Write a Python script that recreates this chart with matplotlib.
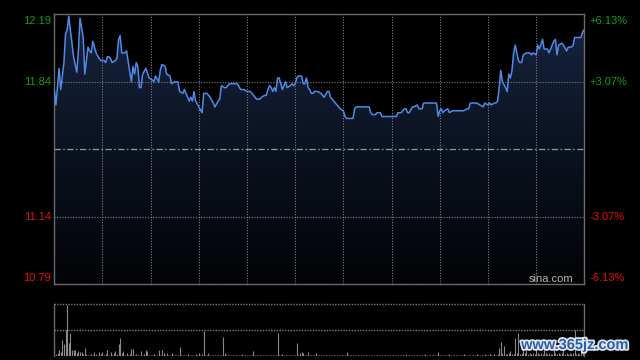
import numpy as np
import matplotlib
matplotlib.use("Agg")
import matplotlib.pyplot as plt
import matplotlib.transforms as mtransforms
import matplotlib.patheffects as pe
from matplotlib.colors import LinearSegmentedColormap

plt.rcParams['font.family'] = ['Liberation Sans', 'DejaVu Sans']

# ---------------- data ----------------
minutes = [0, 1, 3, 4, 6, 7, 8, 9, 11, 12,
           14, 15, 16, 18, 19, 21, 22, 23, 24, 26,
           28, 29, 31, 32, 33, 34, 35, 36, 38, 39,
           40, 41, 42, 44, 45, 47, 48, 49, 50, 51,
           52, 53, 54, 55, 57, 59, 61, 62, 63, 65,
           66, 67, 69, 70, 72, 73, 75, 77, 78, 80,
           81, 82, 84, 85, 86, 87, 88, 90, 92, 93,
           95, 97, 99, 100, 102, 103, 104, 106, 107, 109,
           110, 112, 114, 116, 118, 120, 122, 124, 125, 126,
           128, 129, 131, 132, 133, 134, 135, 136, 137, 138,
           139, 140, 141, 142, 143, 144, 145, 147, 148, 149,
           150, 151, 152, 154, 155, 156, 157, 158, 159, 160,
           161, 162, 164, 166, 167, 168, 170, 171, 172, 173,
           174, 175, 177, 178, 180, 181, 182, 185, 186, 187,
           188, 190, 191, 192, 193, 195, 196, 197, 198, 200,
           201, 203, 204, 207, 210, 213, 214, 216, 218, 219,
           220, 221, 223, 224, 226, 227, 229, 230, 231, 234,
           237, 238, 239, 240, 241, 242, 243, 245, 246, 248,
           250, 251, 253, 255, 257, 258, 259, 261, 263, 265,
           267, 268, 270, 271, 272, 274, 275, 276, 277, 278,
           279, 281, 282, 283, 284, 285, 286, 287, 289, 290,
           291, 292, 294, 296, 297, 298, 300, 301, 302, 304,
           305, 307, 308, 310, 311, 312, 313, 314, 316, 317,
           319, 320, 322, 323, 324, 326, 328, 329, 330]

prices = [11.80, 11.72, 11.91, 11.80, 11.94, 12.09, 12.11, 12.18, 12.04, 11.97,
          11.89, 12.00, 12.17, 12.07, 11.88, 12.02, 12.00, 11.99, 12.05, 11.99,
          11.96, 11.95, 11.95, 11.94, 11.97, 11.97, 11.96, 11.94, 11.95, 11.96,
          12.06, 12.08, 11.99, 11.99, 12.00, 11.89, 11.84, 11.92, 11.88, 11.94,
          11.92, 11.81, 11.81, 11.88, 11.91, 11.86, 11.85, 11.84, 11.87, 11.84,
          11.90, 11.93, 11.92, 11.88, 11.87, 11.83, 11.84, 11.84, 11.79, 11.78,
          11.80, 11.78, 11.74, 11.76, 11.74, 11.79, 11.74, 11.71, 11.68, 11.78,
          11.78, 11.76, 11.73, 11.71, 11.74, 11.75, 11.82, 11.81, 11.81, 11.83,
          11.83, 11.83, 11.83, 11.80, 11.80, 11.79, 11.79, 11.77, 11.76, 11.75,
          11.75, 11.76, 11.77, 11.77, 11.80, 11.82, 11.81, 11.79, 11.81, 11.79,
          11.86, 11.86, 11.83, 11.80, 11.82, 11.84, 11.81, 11.82, 11.83, 11.82,
          11.83, 11.86, 11.87, 11.87, 11.83, 11.83, 11.86, 11.81, 11.80, 11.78,
          11.78, 11.79, 11.79, 11.78, 11.77, 11.76, 11.79, 11.79, 11.76, 11.75,
          11.74, 11.73, 11.71, 11.70, 11.69, 11.66, 11.65, 11.65, 11.65, 11.70,
          11.71, 11.71, 11.71, 11.71, 11.71, 11.71, 11.71, 11.68, 11.67, 11.67,
          11.68, 11.68, 11.66, 11.66, 11.66, 11.66, 11.68, 11.68, 11.70, 11.70,
          11.68, 11.68, 11.71, 11.71, 11.72, 11.70, 11.70, 11.73, 11.73, 11.73,
          11.73, 11.73, 11.66, 11.69, 11.70, 11.68, 11.69, 11.70, 11.68, 11.69,
          11.69, 11.69, 11.69, 11.69, 11.70, 11.70, 11.73, 11.73, 11.73, 11.72,
          11.71, 11.73, 11.72, 11.73, 11.72, 11.73, 11.73, 11.74, 11.81, 11.90,
          11.84, 11.81, 11.79, 11.88, 11.86, 11.90, 11.99, 12.03, 11.95, 11.94,
          11.94, 11.98, 11.99, 11.99, 11.98, 11.99, 11.98, 12.03, 12.01, 12.06,
          12.01, 12.01, 11.99, 12.03, 12.05, 12.06, 11.98, 12.03, 12.04, 12.03,
          12.00, 12.02, 12.02, 12.03, 12.07, 12.07, 12.07, 12.10, 12.11]

volumes = [22, 4, 6, 11, 8, 30, 24, 51, 99, 26, 45, 11, 11, 11, 6, 10, 7, 7, 4, 15, 3, 2, 2, 3, 2, 8, 3, 2, 8, 3,
           7, 2, 3, 11, 2, 8, 2, 5, 10, 3, 23, 35, 5, 10, 2, 6, 2, 3, 13, 13, 2, 3, 2, 2, 9, 2, 3, 11, 10, 2,
           2, 1, 3, 2, 2, 11, 2, 11, 5, 2, 5, 2, 1, 6, 2, 2, 1, 2, 17, 2, 1, 2, 2, 3, 1, 2, 2, 1, 3, 2,
           6, 2, 3, 49, 2, 1, 6, 2, 2, 1, 2, 2, 1, 2, 2, 37, 6, 2, 1, 2, 2, 1, 2, 2, 1, 2, 2, 3, 1, 2,
           2, 1, 2, 2, 10, 2, 1, 2, 2, 1, 2, 2, 1, 2, 2, 1, 2, 2, 1, 45, 2, 2, 3, 1, 2, 2, 1, 2, 2, 1,
           2, 26, 2, 6, 8, 5, 2, 2, 8, 2, 1, 2, 2, 6, 2, 1, 2, 2, 1, 2, 2, 1, 2, 2, 1, 2, 2, 1, 2, 2,
           1, 2, 8, 2, 1, 2, 2, 1, 2, 2, 1, 2, 2, 1, 2, 2, 1, 2, 2, 1, 2, 2, 1, 2, 2, 1, 2, 2, 1, 2,
           2, 1, 2, 2, 1, 2, 2, 1, 2, 3, 1, 2, 2, 1, 2, 2, 1, 2, 2, 1, 2, 3, 1, 2, 2, 1, 2, 2, 1, 8,
           2, 1, 2, 2, 1, 2, 3, 1, 2, 2, 1, 2, 2, 1, 2, 3, 2, 1, 2, 2, 1, 2, 2, 3, 1, 2, 2, 1, 3, 2,
           2, 3, 2, 1, 3, 2, 4, 15, 28, 5, 20, 4, 3, 6, 10, 4, 3, 34, 6, 45, 4, 6, 20, 5, 29, 4, 6, 3, 5, 4,
           32, 5, 4, 6, 3, 20, 5, 4, 6, 3, 4, 29, 5, 4, 6, 3, 5, 20, 4, 6, 3, 5, 4, 6, 51, 4, 5, 3, 20, 5, 4]

price_ticks = [12.19, 11.84, 11.49, 11.14, 10.79]
left_labels = ["12.19", "11.84", "", "11.14", "10.79"]
right_labels = ["+6.13%", "+3.07%", "", "-3.07%", "-6.13%"]
prev_close = 11.49
total_minutes = 330
grid_step = 30

assert len(minutes) == len(prices)
vol_minutes = np.arange(len(volumes))

# ---------------- figure ----------------
W, H = 640, 360
fig = plt.figure(figsize=(6.4, 3.6), dpi=100, facecolor='black')

ax = fig.add_axes([54.3 / W, 1 - 284.3 / H, 530 / W, 270 / H])
axv = fig.add_axes([54.3 / W, 1 - 356 / H, 530 / W, (356 - 304.3) / H])

GREEN = '#13a013'
RED = '#e40e0e'
FRAME = '#6a6a6a'
GRID = '#7c7c7c'

for a in (ax, axv):
    a.set_facecolor('black')
    a.set_xticks([])
    a.set_yticks([])
    a.set_xlim(0, total_minutes)

ax.set_ylim(price_ticks[-1], price_ticks[0])
for s in ax.spines.values():
    s.set_color(FRAME)
    s.set_linewidth(1.0)

# gradient fill under line
x = np.array(minutes, dtype=float)
y = np.array(prices)
poly = ax.fill_between(x, y, price_ticks[-1], color='none', lw=0)
cmap = LinearSegmentedColormap.from_list('g', ['#020305', '#0b1220', '#172540'])
grad = np.linspace(0, 1, 256).reshape(-1, 1)
im = ax.imshow(grad, extent=[0, total_minutes, price_ticks[-1], price_ticks[0]],
               origin='lower', aspect='auto', cmap=cmap, zorder=1, interpolation='bilinear')
im.set_clip_path(poly.get_paths()[0], transform=ax.transData)

# grid
dot = (0, (1, 1.4))
for m in range(grid_step, total_minutes, grid_step):
    ax.axvline(m, color=GRID, lw=0.8, ls=dot, zorder=2)
for p in price_ticks[1:-1]:
    if abs(p - prev_close) < 1e-6:
        ax.axhline(p, color='#8f99a8', lw=0.9, ls=(0, (5, 2, 1.2, 2)), zorder=2)
    else:
        ax.axhline(p, color=GRID, lw=0.8, ls=dot, zorder=2)

ax.plot(x, y, color='#4f8ae6', lw=1.1, zorder=3, solid_joinstyle='round')

# labels
dpi_t = fig.dpi_scale_trans
left_tr = mtransforms.blended_transform_factory(ax.transAxes, ax.transData)
for i, (p, lab) in enumerate(zip(price_ticks, left_labels)):
    if not lab:
        continue
    col = GREEN if p > prev_close else RED
    dy = 0
    if i == 0:
        dy = -6.5 / 100
    elif i == len(price_ticks) - 1:
        dy = 6 / 100
    off = mtransforms.ScaledTranslation(-3.5 / 100, dy, dpi_t)
    ax.text(0, p, lab, transform=left_tr + off, ha='right', va='center',
            color=col, fontsize=8, clip_on=False)
    off2 = mtransforms.ScaledTranslation(5.5 / 100, dy, dpi_t)
    ax.text(1, p, right_labels[i], transform=left_tr + off2, ha='left', va='center',
            color=col, fontsize=8, clip_on=False)

ax.text(0.979, 0.02, 'sina.com', transform=ax.transAxes, ha='right', va='center',
        color='#b4b4b4', fontsize=8, zorder=4)

# volume panel
axv.set_ylim(0, 100)
for k in ('top', 'bottom'):
    axv.spines[k].set_visible(False)
for k in ('left', 'right'):
    axv.spines[k].set_color(FRAME)
    axv.spines[k].set_linewidth(1.0)
axv.axhline(100, color=GRID, lw=1.0, ls=(0, (1, 1)), clip_on=False)
axv.axhline(50, color=GRID, lw=1.0, ls=(0, (1, 1)))
axv.vlines(vol_minutes, 0, volumes, color='#8a8a8a', lw=0.8)

# watermark
fig.text(575 / W, 1 - 345 / H, 'www.365jz.com', ha='center', va='center',
         fontsize=10.5, fontweight='bold', color='#2b5da8',
         path_effects=[pe.withStroke(linewidth=2.5, foreground='#dfe6f0')])

fig.savefig('out.png', dpi=100, facecolor='black')
